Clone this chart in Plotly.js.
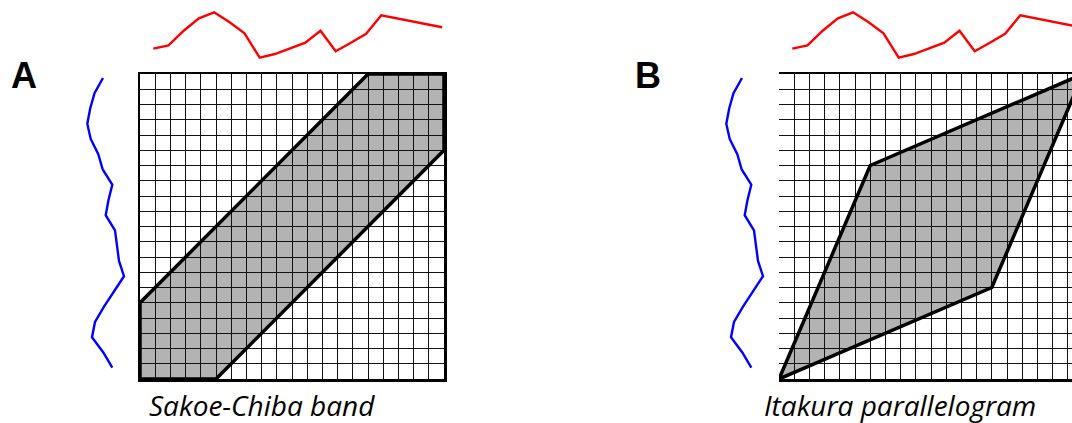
<!DOCTYPE html>
<html>
<head>
<meta charset="utf-8">
<script src="https://cdn.plot.ly/plotly-3.0.1.min.js"></script>
<style>html,body{margin:0;padding:0;background:#fff;}#chart{width:1072px;height:423px;}</style>
</head>
<body>
<div id="chart"></div>
<script>
// ---- data ----
const gridN = 20;
const bandX = [0, 5, 20, 20, 15, 0, 0];
const bandY = [0, 0, 15, 20, 20, 5, 0];
const itakuraX = [0, 6, 20, 14, 0];
const itakuraY = [0, 14, 20, 6, 0];
const redT = [1, 2, 3, 4, 5, 6, 7, 8, 9, 10, 11, 12, 13, 14, 15, 16, 20];
const redV = [2.13, 2.47, 3.93, 5.17, 5.77, 4.8, 3.67, 1.23, 1.6, 2.17, 2.73, 3.93, 1.87, 2.73, 3.63, 5.47, 4.27];
const blueS = [1, 2, 3, 4, 5, 6, 7, 8, 9, 10, 11, 12, 13, 14, 15, 16, 17, 18, 19, 20];
const blueV = [3.3, 2.45, 2.02, 1.73, 2.07, 2.83, 3.27, 4.23, 3.85, 3.57, 4.5, 4.7, 4.9, 5.4, 4.36, 3.4, 2.5, 2.2, 3.33, 4.23];
const panelLetters = ['A', 'B'];
const panelTitles = ['Sakoe-Chiba band', 'Itakura parallelogram'];

// ---- layout helpers ----
const W = 1072, H = 423;
const fx = p => p / W;
const fy = p => 1 - p / H;
const cell = 15.2;
const gridLeftA = 140, gridLeftB = 779, gridTop = 74, gridBottom = 379;
const shiftB = gridLeftB - gridLeftA;
const rangeB = (W - gridLeftB) / cell;

function gridAxis(dom, rng, mirror) {
  return {domain: dom, range: rng, dtick: 1, tick0: 0, showgrid: true, gridcolor: '#111', gridwidth: 1,
    zeroline: false, showline: true, linecolor: '#000', linewidth: 2.5, mirror: mirror,
    ticks: '', showticklabels: false, fixedrange: true};
}
function hiddenAxis(dom, rng) {
  return {domain: dom, range: rng, visible: false, showgrid: false, zeroline: false, fixedrange: true};
}
function pathOf(xs, ys) {
  return xs.map((x, i) => (i === 0 ? 'M' : 'L') + x + ',' + ys[i]).join(' ') + ' Z';
}

const yGridDom = [fy(gridBottom), fy(gridTop)];
const redYDom = [fy(70), 1];
const blueRange = [20.74, 0.74];

const traces = [
  // Panel A
  {x: bandX, y: bandY, xaxis: 'x', yaxis: 'y', mode: 'lines', line: {color: '#000', width: 3.5}, hoverinfo: 'skip'},
  {x: redT, y: redV, xaxis: 'x2', yaxis: 'y2', mode: 'lines', line: {color: '#ff0000', width: 2.4}, hoverinfo: 'skip'},
  {x: blueV, y: blueS, xaxis: 'x3', yaxis: 'y3', mode: 'lines', line: {color: '#0000ff', width: 2.4}, hoverinfo: 'skip'},
  // Panel B
  {x: itakuraX, y: itakuraY, xaxis: 'x4', yaxis: 'y4', mode: 'lines', line: {color: '#000', width: 3.5}, hoverinfo: 'skip'},
  {x: redT, y: redV, xaxis: 'x5', yaxis: 'y5', mode: 'lines', line: {color: '#ff0000', width: 2.4}, hoverinfo: 'skip'},
  {x: blueV, y: blueS, xaxis: 'x6', yaxis: 'y6', mode: 'lines', line: {color: '#0000ff', width: 2.4}, hoverinfo: 'skip'}
];

const layout = {
  width: W, height: H,
  margin: {l: 0, r: 0, t: 0, b: 0},
  paper_bgcolor: '#fff', plot_bgcolor: 'rgba(0,0,0,0)',
  showlegend: false,
  xaxis: gridAxis([fx(gridLeftA), fx(gridLeftA + gridN * cell)], [0, gridN], true),
  yaxis: gridAxis(yGridDom, [0, gridN], true),
  xaxis2: hiddenAxis([fx(gridLeftA), fx(gridLeftA + gridN * cell)], [0.125, gridN + 0.125]),
  yaxis2: hiddenAxis(redYDom, [0, 7]),
  xaxis3: hiddenAxis([fx(70), fx(130)], [0, 6]),
  yaxis3: hiddenAxis(yGridDom, blueRange),
  xaxis4: gridAxis([fx(gridLeftB), 1], [0, rangeB], true),
  yaxis4: gridAxis(yGridDom, [0, gridN], false),
  xaxis5: hiddenAxis([fx(gridLeftB), 1], [0.125, rangeB + 0.125]),
  yaxis5: hiddenAxis(redYDom, [0, 7]),
  xaxis6: hiddenAxis([fx(70 + shiftB), fx(130 + shiftB)], [0, 6]),
  yaxis6: hiddenAxis(yGridDom, blueRange),
  shapes: [
    {type: 'path', xref: 'x', yref: 'y', path: pathOf(bandX, bandY), fillcolor: '#b3b3b3', line: {width: 0}, layer: 'below'},
    {type: 'path', xref: 'x4', yref: 'y4', path: pathOf(itakuraX, itakuraY), fillcolor: '#b3b3b3', line: {width: 0}, layer: 'below'}
  ],
  annotations: [
    {text: '<b>' + panelLetters[0] + '</b>', xref: 'paper', yref: 'paper', x: fx(24), y: fy(75), showarrow: false,
      font: {family: 'Liberation Sans, Arial, sans-serif', size: 36, color: '#000'}, xanchor: 'center', yanchor: 'middle'},
    {text: '<b>' + panelLetters[1] + '</b>', xref: 'paper', yref: 'paper', x: fx(648), y: fy(75), showarrow: false,
      font: {family: 'Liberation Sans, Arial, sans-serif', size: 36, color: '#000'}, xanchor: 'center', yanchor: 'middle'},
    {text: '<i>' + panelTitles[0] + '</i>', xref: 'paper', yref: 'paper', x: fx(262), y: fy(405), showarrow: false,
      font: {family: 'Open Sans, sans-serif', size: 28, color: '#000'}, xanchor: 'center', yanchor: 'middle', borderpad: 0},
    {text: '<i>' + panelTitles[1] + '</i>', xref: 'paper', yref: 'paper', x: fx(900), y: fy(405), showarrow: false,
      font: {family: 'Open Sans, sans-serif', size: 28, color: '#000'}, xanchor: 'center', yanchor: 'middle', borderpad: 0}
  ]
};

Plotly.newPlot('chart', traces, layout, {staticPlot: true, displayModeBar: false});
</script>
</body>
</html>
